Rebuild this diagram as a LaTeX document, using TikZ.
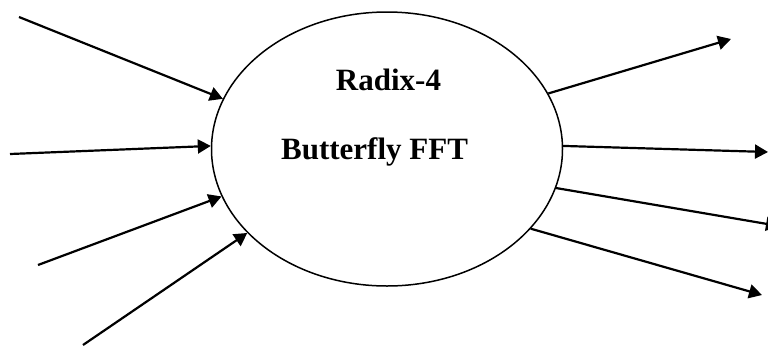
\documentclass[tikz,border=0pt]{standalone}
\usepackage{fontspec}
\setmainfont{Liberation Serif}
\usetikzlibrary{arrows.meta,shapes.geometric}

\begin{document}
\begin{tikzpicture}[x=1pt,y=-1pt,>={Triangle[length=13pt,width=14pt]},
    line width=2.2pt,
    block/.style={draw,ellipse,line width=1.5pt,inner sep=0pt,
                  minimum width=351pt,minimum height=274pt},
    lbl/.style={font=\bfseries\fontsize{31}{37}\selectfont,inner sep=0pt,anchor=base}]
    \useasboundingbox (0,0) rectangle (768,346);

    \node[block] (fft)   at (387,149)   {};
    \node[lbl]   (radix) at (388.5,90)  {Radix-4};
    \node[lbl]   (bfly)  at (374.5,159) {Butterfly FFT};

    % inputs
    \coordinate (i1) at (19,17);
    \coordinate (i2) at (10,154);
    \coordinate (i3) at (38,265);
    \coordinate (i4) at (83,345);
    % outputs
    \coordinate (o1) at (731,39);
    \coordinate (o2) at (768,152);
    \coordinate (o3) at (779,226);
    \coordinate (o4) at (762,295);

    \path[->]
        (i1) edge (fft.163.5)
        (i2) edge (fft.179)
        (i3) edge (fft.196.5)
        (i4) edge (fft.211)
        (fft.19.5) edge (o1)
        (fft.1.6)  edge (o2)
        (fft.347)  edge (o3)
        (fft.331)  edge (o4);
\end{tikzpicture}
\end{document}
